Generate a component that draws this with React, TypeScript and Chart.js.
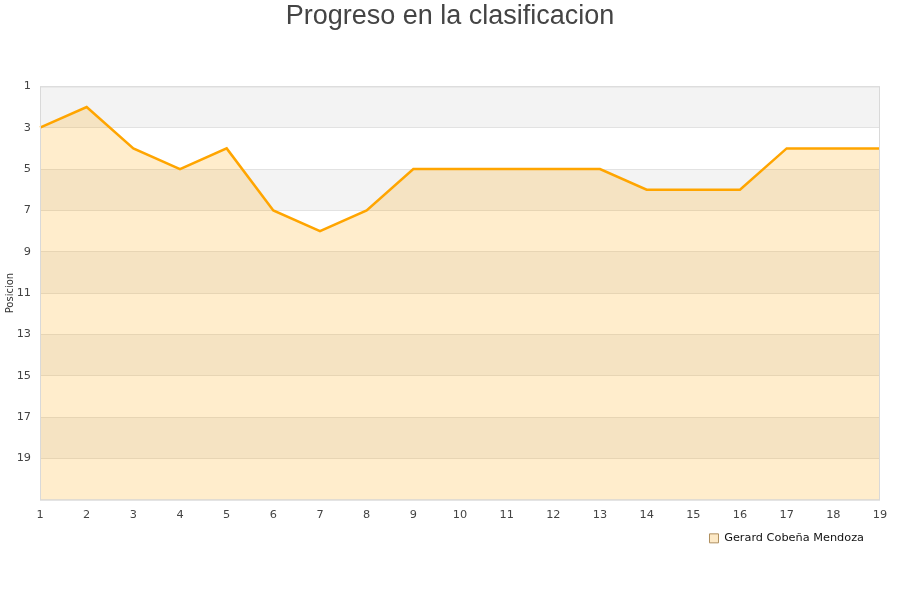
import React, { useEffect, useRef } from "react";
import { Chart, registerables } from "chart.js";

Chart.register(...registerables);

const jornadas = ["1","2","3","4","5","6","7","8","9","10","11","12","13","14","15","16","17","18","19"];
const posiciones = [3,2,4,5,4,7,8,7,5,5,5,5,5,6,6,6,4,4,4];
const serieNombre = "Gerard Cobeña Mendoza";
const titulo = "Progreso en la clasificacion";
const ejeY = "Posicion";

const bandsPlugin = {
  id: "bands",
  afterLayout(chart: any) {
    const lg = chart.legend;
    if (lg) {
      lg.right = chart.chartArea.right;
      lg.top -= 11;
      lg.bottom -= 11;
    }
  },
  beforeDraw(chart: any) {
    const { ctx, chartArea } = chart;
    const y = chart.scales.y;
    ctx.save();
    for (let v = 1; v < 21; v += 4) {
      const top = y.getPixelForValue(v);
      const bot = y.getPixelForValue(v + 2);
      ctx.fillStyle = "#f3f3f3";
      ctx.fillRect(chartArea.left, top, chartArea.right - chartArea.left, bot - top);
    }
    ctx.restore();
  },
  afterDatasetsDraw(chart: any) {
    const { ctx, chartArea } = chart;
    ctx.save();
    ctx.strokeStyle = "#d9d9d9";
    ctx.lineWidth = 1;
    ctx.strokeRect(chartArea.left + 0.5, chartArea.top + 0.5, chartArea.right - chartArea.left - 1, chartArea.bottom - chartArea.top);
    ctx.restore();
  },
};

export default function App() {
  const ref = useRef<HTMLCanvasElement>(null);
  useEffect(() => {
    if (!ref.current) return;
    const chart = new Chart(ref.current, {
      type: "line",
      data: {
        labels: jornadas,
        datasets: [
          {
            label: serieNombre,
            data: posiciones,
            borderColor: "#ffa500",
            backgroundColor: "rgba(255,165,0,0.2)",
            borderWidth: 2.5,
            pointRadius: 0,
            tension: 0,
            fill: { value: 21 },
          },
        ],
      },
      options: {
        responsive: false,
        animation: false,
        layout: { padding: { left: 0, right: 0, top: 0, bottom: 35 } },
        plugins: {
          title: {
            display: true,
            text: titulo,
            color: "#444",
            font: { family: "Liberation Sans", size: 27, weight: "normal" },
            padding: { top: 0, bottom: 54 },
          },
          legend: {
            display: true,
            position: "bottom",
            align: "end",
            labels: {
              boxWidth: 9,
              boxHeight: 9,
              color: "#111",
              padding: 16,
              font: { family: "DejaVu Sans", size: 11.3 },
              generateLabels(chart: any) {
                const items = Chart.defaults.plugins.legend.labels.generateLabels(chart);
                return items.map((it: any) => ({ ...it, strokeStyle: "#b09060", lineWidth: 1, fillStyle: "#fde9c6" }));
              },
            },
          },
          tooltip: { enabled: false },
        },
        scales: {
          x: {
            offset: false,
            grid: { display: false },
            border: { display: false },
            ticks: { color: "#444", font: { family: "DejaVu Sans", size: 11.3 }, maxRotation: 0, autoSkip: false, padding: 1 },
            afterFit(scale: any) { scale.height = 28; scale.paddingRight = 20; },
          },
          y: {
            reverse: true,
            min: 1,
            max: 21,
            grid: { color: "#e2e2e2", drawTicks: false },
            border: { display: false },
            ticks: {
              stepSize: 2,
              color: "#444",
              padding: 9,
              font: { family: "DejaVu Sans", size: 11.3 },
              callback: (v: any) => (v === 21 ? "" : String(v)),
            },
            title: {
              display: true,
              text: ejeY,
              color: "#333",
              font: { family: "DejaVu Sans", size: 10 },
              padding: { top: 4, bottom: 0 },
            },
            afterFit(scale: any) { scale.width = 40; },
          },
        },
      },
      plugins: [bandsPlugin],
    } as any);
    return () => chart.destroy();
  }, []);
  return (
    <div style={{ position: "fixed", left: 0, top: 0, width: 900, height: 600, background: "#fff" }}>
      <canvas ref={ref} width={900} height={600} style={{ width: 900, height: 600 }} />
    </div>
  );
}
